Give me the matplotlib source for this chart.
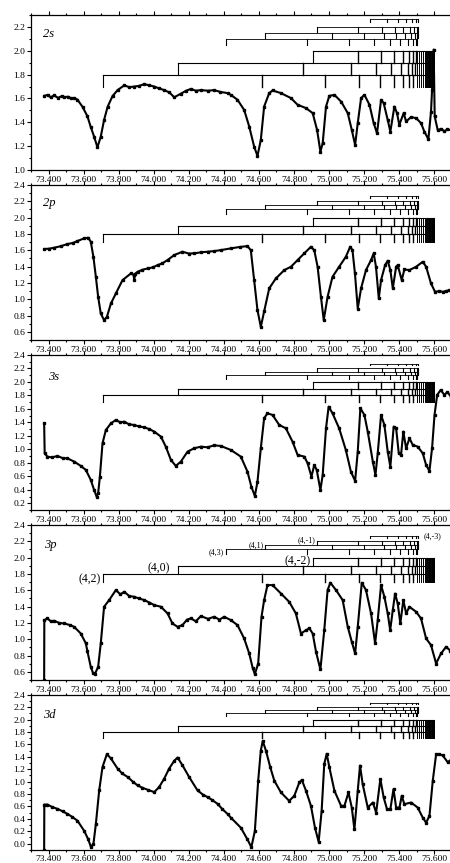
import matplotlib
matplotlib.use("Agg")
import matplotlib.pyplot as plt
from matplotlib.ticker import MultipleLocator, FormatStrFormatter

plt.rcParams['font.family'] = ['Liberation Serif', 'DejaVu Serif']

# ---------------- data ----------------
x_2s = [73.375, 73.395, 73.412, 73.432, 73.455, 73.475, 73.489, 73.51, 73.53, 73.546, 73.565, 73.594, 73.622, 73.641, 73.66, 73.679,
        73.698, 73.717, 73.737, 73.765, 73.794, 73.832, 73.86, 73.889, 73.915, 73.946, 73.975, 74.003, 74.03, 74.06,
        74.09, 74.117, 74.155, 74.185, 74.212, 74.24, 74.269, 74.31, 74.345, 74.38, 74.421, 74.44, 74.478, 74.516, 74.545,
        74.573, 74.592, 74.611, 74.63, 74.659, 74.678, 74.726, 74.783, 74.821, 74.869,
        74.907, 74.932, 74.951, 74.964, 74.983, 75.002, 75.031, 75.069, 75.107, 75.13,
        75.149, 75.164, 75.183, 75.202, 75.231, 75.255, 75.274, 75.297, 75.312, 75.335,
        75.35, 75.373, 75.388, 75.401, 75.426, 75.44, 75.468, 75.497, 75.525, 75.544,
        75.567, 75.582, 75.588, 75.597, 75.603, 75.62, 75.64, 75.658, 75.675, 75.695]
y_2s = [1.622, 1.63, 1.61, 1.625, 1.605, 1.62, 1.61, 1.615, 1.6, 1.605, 1.59, 1.53, 1.45, 1.36, 1.28, 1.19,
        1.28, 1.42, 1.53, 1.62, 1.67, 1.71, 1.695, 1.70, 1.705, 1.72, 1.71, 1.70, 1.685, 1.67,
        1.65, 1.61, 1.64, 1.665, 1.68, 1.665, 1.67, 1.665, 1.67, 1.655, 1.645, 1.63, 1.589, 1.504, 1.364,
        1.196, 1.118, 1.252, 1.532, 1.645, 1.667, 1.645, 1.603, 1.547, 1.519,
        1.477, 1.336, 1.154, 1.224, 1.532, 1.622, 1.63, 1.574, 1.477, 1.336,
        1.21, 1.393, 1.603, 1.63, 1.547, 1.393, 1.308, 1.589, 1.561, 1.42,
        1.322, 1.532, 1.477, 1.378, 1.477, 1.407, 1.444, 1.435, 1.393, 1.322,
        1.258, 1.49, 1.673, 2.01, 1.45, 1.336, 1.345, 1.325, 1.34, 1.336]

x_2p = [73.375, 73.405, 73.432, 73.47, 73.508, 73.54, 73.565, 73.603, 73.626, 73.641, 73.656, 73.67, 73.683,
        73.698, 73.717, 73.733, 73.756, 73.784, 73.822, 73.87, 73.885, 73.889, 73.893,
        73.908, 73.935, 73.965, 73.995, 74.022, 74.05, 74.079, 74.117, 74.164, 74.2, 74.231, 74.27, 74.307, 74.345, 74.383, 74.44,
        74.49, 74.535, 74.554, 74.573, 74.592, 74.611, 74.63, 74.659, 74.697, 74.745,
        74.783, 74.821, 74.859, 74.897, 74.916, 74.935, 74.954, 74.97, 74.992, 75.02,
        75.058, 75.096, 75.121, 75.134, 75.148, 75.164, 75.183, 75.211, 75.24, 75.255,
        75.268, 75.284, 75.297, 75.32, 75.335, 75.35, 75.364, 75.383, 75.392, 75.415,
        75.43, 75.459, 75.497, 75.535, 75.554, 75.582, 75.605, 75.63, 75.649, 75.667, 75.687]
y_2p = [1.615, 1.62, 1.631, 1.65, 1.676, 1.69, 1.713, 1.746, 1.754, 1.705, 1.52, 1.275, 1.03,
        0.825, 0.743, 0.784, 0.948, 1.07, 1.234, 1.316, 1.30, 1.234, 1.31,
        1.336, 1.36, 1.377, 1.39, 1.418, 1.44, 1.48, 1.541, 1.582, 1.56, 1.562, 1.575, 1.582, 1.59, 1.602, 1.623,
        1.64, 1.651, 1.6, 1.234, 0.866, 0.661, 0.85, 1.133, 1.255, 1.357,
        1.398, 1.48, 1.562, 1.643, 1.6, 1.398, 1.03, 0.744, 1.03, 1.275,
        1.398, 1.52, 1.643, 1.6, 1.316, 0.886, 1.133, 1.357, 1.48, 1.562,
        1.398, 1.01, 1.234, 1.418, 1.472, 1.357, 1.133, 1.398, 1.418, 1.234,
        1.365, 1.357, 1.398, 1.459, 1.398, 1.193, 1.09, 1.1, 1.09, 1.1, 1.11]

x_3s = [73.375, 73.378, 73.394, 73.42, 73.451, 73.48, 73.508, 73.546, 73.584, 73.613, 73.641, 73.66,
        73.674, 73.683, 73.693, 73.708, 73.727, 73.756, 73.784, 73.81, 73.832, 73.86, 73.889, 73.915, 73.946,
        73.975, 74.003, 74.041, 74.069, 74.098, 74.126, 74.155, 74.193, 74.231, 74.27, 74.307, 74.345, 74.383,
        74.44, 74.497, 74.535, 74.557, 74.577, 74.592, 74.611, 74.63, 74.649, 74.678,
        74.716, 74.754, 74.792, 74.821, 74.859, 74.878, 74.9, 74.916, 74.93, 74.951,
        74.964, 74.983, 74.998, 75.02, 75.058, 75.096, 75.125, 75.149, 75.164, 75.179,
        75.202, 75.221, 75.25, 75.265, 75.278, 75.297, 75.316, 75.335, 75.35, 75.369,
        75.383, 75.398, 75.411, 75.424, 75.44, 75.459, 75.478, 75.506, 75.535, 75.554,
        75.573, 75.588, 75.602, 75.617, 75.637, 75.658, 75.676, 75.696]
y_3s = [1.386, 0.94, 0.892, 0.88, 0.902, 0.87, 0.867, 0.818, 0.754, 0.694, 0.546, 0.398,
        0.3, 0.348, 0.595, 1.09, 1.287, 1.386, 1.436, 1.40, 1.411, 1.37, 1.362, 1.34, 1.327,
        1.30, 1.263, 1.189, 1.04, 0.843, 0.754, 0.818, 0.966, 1.016, 1.04, 1.03, 1.06, 1.05,
        0.991, 0.892, 0.669, 0.446, 0.308, 0.52, 1.016, 1.461, 1.535, 1.51,
        1.362, 1.312, 1.114, 0.917, 0.892, 0.793, 0.595, 0.768, 0.694, 0.397,
        0.62, 1.312, 1.634, 1.535, 1.312, 0.991, 0.669, 0.531, 0.966, 1.61,
        1.51, 1.263, 0.818, 0.62, 0.941, 1.51, 1.362, 0.966, 0.743, 1.337,
        1.312, 0.941, 0.917, 1.263, 1.016, 1.164, 1.065, 1.04, 0.941, 0.768,
        0.679, 1.016, 1.51, 1.807, 1.88, 1.81, 1.85, 1.78]

x_3p = [73.375, 73.376, 73.394, 73.412, 73.432, 73.46, 73.489, 73.52, 73.546, 73.584, 73.613, 73.622, 73.641,
        73.655, 73.664, 73.683, 73.698, 73.717, 73.746, 73.784, 73.81, 73.832, 73.86, 73.889, 73.915, 73.946,
        73.975, 74.003, 74.041, 74.079, 74.107, 74.136, 74.164, 74.19, 74.212, 74.24, 74.269, 74.31, 74.345, 74.375, 74.402,
        74.44, 74.478, 74.516, 74.545, 74.564, 74.577, 74.596, 74.615, 74.63, 74.649,
        74.678, 74.726, 74.773, 74.811, 74.84, 74.869, 74.888, 74.907, 74.926, 74.951,
        74.973, 74.992, 75.008, 75.04, 75.078, 75.107, 75.13, 75.149, 75.164, 75.187,
        75.211, 75.24, 75.263, 75.278, 75.297, 75.316, 75.335, 75.349, 75.364, 75.377,
        75.392, 75.407, 75.424, 75.44, 75.459, 75.497, 75.525, 75.554, 75.582, 75.611,
        75.639, 75.668, 75.693]
y_3p = [0.5, 1.234, 1.255, 1.22, 1.226, 1.2, 1.193, 1.175, 1.152, 1.07, 0.948, 0.85, 0.66,
        0.58, 0.571, 0.661, 0.948, 1.398, 1.48, 1.602, 1.55, 1.582, 1.53, 1.52, 1.50, 1.48,
        1.45, 1.418, 1.398, 1.316, 1.193, 1.152, 1.173, 1.24, 1.255, 1.22, 1.283, 1.25, 1.275, 1.24, 1.275,
        1.234, 1.173, 1.009, 0.825, 0.653, 0.571, 0.702, 1.275, 1.479, 1.663,
        1.663, 1.56, 1.458, 1.316, 1.07, 1.111, 1.132, 1.07, 0.845, 0.629,
        1.111, 1.602, 1.692, 1.602, 1.479, 1.152, 0.968, 0.825, 1.152, 1.692,
        1.602, 1.316, 0.948, 1.234, 1.663, 1.52, 1.316, 1.111, 1.357, 1.56,
        1.438, 1.193, 1.479, 1.316, 1.397, 1.336, 1.254, 1.009, 0.927, 0.702,
        0.825, 0.907, 0.858]

x_3d = [73.375, 73.376, 73.394, 73.42, 73.451, 73.48, 73.508, 73.535, 73.565, 73.603, 73.626, 73.641, 73.656,
        73.67, 73.689, 73.708, 73.733, 73.756, 73.794, 73.82, 73.851, 73.88, 73.908, 73.935, 73.965, 74.003,
        74.031, 74.06, 74.088, 74.117, 74.136, 74.164, 74.202, 74.25, 74.28, 74.307, 74.335, 74.364, 74.39,
        74.421, 74.44, 74.497, 74.535, 74.557, 74.577, 74.596, 74.611, 74.622, 74.64,
        74.665, 74.688, 74.726, 74.773, 74.802, 74.831, 74.845, 74.869, 74.897, 74.92,
        74.941, 74.958, 74.973, 74.987, 75.002, 75.031, 75.069, 75.088, 75.111, 75.13,
        75.145, 75.164, 75.177, 75.192, 75.221, 75.25, 75.269, 75.293, 75.312, 75.331,
        75.35, 75.368, 75.383, 75.402, 75.415, 75.43, 75.468, 75.506, 75.535, 75.554,
        75.573, 75.592, 75.611, 75.63, 75.649, 75.677, 75.696]
y_3d = [-0.1, 0.628, 0.628, 0.59, 0.558, 0.52, 0.477, 0.43, 0.368, 0.206, 0.07, -0.049, -0.011,
        0.314, 0.856, 1.235, 1.441, 1.371, 1.208, 1.13, 1.073, 1.0, 0.937, 0.9, 0.867, 0.829,
        0.91, 1.046, 1.208, 1.333, 1.387, 1.262, 1.073, 0.856, 0.79, 0.748, 0.7, 0.639, 0.56,
        0.477, 0.417, 0.255, 0.065, -0.06, 0.2, 1.013, 1.5, 1.652, 1.5,
        1.23, 1.013, 0.823, 0.688, 0.769, 0.986, 1.024, 0.85, 0.607, 0.255,
        0.027, 0.525, 1.284, 1.447, 1.23, 0.85, 0.607, 0.607, 0.823, 0.58,
        0.228, 0.85, 1.257, 0.959, 0.58, 0.661, 0.499, 1.04, 0.742, 0.553,
        0.553, 0.877, 0.58, 0.58, 0.769, 0.634, 0.661, 0.58, 0.417, 0.336,
        0.444, 1.013, 1.436, 1.44, 1.42, 1.311, 1.35]

panel_names = ['2s', '2p', '3s', '3p', '3d']
panel_x = [x_2s, x_2p, x_3s, x_3p, x_3d]
panel_y = [y_2s, y_2p, y_3s, y_3p, y_3d]
panel_ylim = [(1.0, 2.3), (0.5, 2.4), (0.1, 2.4), (0.5, 2.4), (-0.1, 2.4)]

# Series limit ladders: (label, level, start, tick positions)
dense_ticks = [75.502, 75.515, 75.527, 75.537, 75.545, 75.552, 75.558, 75.563, 75.568,
               75.572, 75.576, 75.579, 75.582, 75.585, 75.588, 75.590, 75.592, 75.594,
               75.596, 75.598, 75.600]
big_series = [
    ('(4,2)', 1.8, 73.711, [74.619, 74.98, 75.174, 75.292, 75.368, 75.421, 75.457, 75.482]),
    ('(4,0)', 1.9, 74.139, [74.851, 75.126, 75.271, 75.355, 75.412, 75.45, 75.474, 75.493]),
    ('(4,-2)', 2.0, 74.91, [75.164, 75.294, 75.368, 75.421, 75.459, 75.482, 75.497]),
]
small_series = [
    ('(4,3)', 2.1, 74.411, [74.875, 75.115, 75.258, 75.347, 75.406, 75.448, 75.478, 75.497], 75.50, 0.05),
    ('(4,1)', 2.15, 74.634, [75.016, 75.202, 75.315, 75.385, 75.434, 75.469, 75.488, 75.50], 75.505, 0.045),
    ('(4,-1)', 2.2, 74.93, [75.168, 75.30, 75.374, 75.425, 75.461, 75.484, 75.503], 75.51, 0.045),
    ('(4,-3)', 2.265, 75.235, [75.33, 75.393, 75.44, 75.472, 75.495], 75.51, 0.02),
]
series_limit = 75.6

# ---------------- figure ----------------
W, H = 450, 863
fig = plt.figure(figsize=(W / 100, H / 100), dpi=100)
left_px, width_px, height_px = 31, 420.7, 155
tops_px = [15, 185, 355, 525, 694.7]
label_pos = [(0.029, 0.879), (0.029, 0.884), (0.041, 0.86), (0.031, 0.871), (0.029, 0.871)]

for i in range(5):
    ax = fig.add_axes([left_px / W, (H - tops_px[i] - height_px) / H, width_px / W, height_px / H])
    ax.plot(panel_x[i], panel_y[i], color='black', lw=1.5, marker='s', ms=1.7,
            mec='black', mfc='black', solid_joinstyle='round')
    ax.set_xlim(73.3, 75.7)
    ax.set_ylim(*panel_ylim[i])
    ax.xaxis.set_major_locator(MultipleLocator(0.2))
    ax.xaxis.set_minor_locator(MultipleLocator(0.1))
    ax.yaxis.set_major_locator(MultipleLocator(0.2))
    ax.yaxis.set_minor_locator(MultipleLocator(0.1))
    ax.xaxis.set_major_formatter(FormatStrFormatter('%.3f'))
    ax.yaxis.set_major_formatter(FormatStrFormatter('%.1f'))
    ax.tick_params(which='both', direction='out', top=True, right=False, labeltop=False,
                   width=0.8, labelsize=6.8, pad=1)
    ax.tick_params(which='major', length=3)
    ax.tick_params(which='minor', length=1.6)
    ax.spines['right'].set_visible(False)
    for s in ['left', 'top', 'bottom']:
        ax.spines[s].set_linewidth(0.9)

    # big ladders
    for name, lev, start, ticks in big_series:
        ax.plot([start, series_limit], [lev, lev], color='black', lw=0.8)
        ax.plot([start, start], [lev, lev - 0.1], color='black', lw=0.8)
        for t in ticks:
            ax.plot([t, t], [lev, lev - 0.1], color='black', lw=1.0)
        for t in dense_ticks:
            ax.plot([t, t], [lev, lev - 0.1], color='black', lw=0.7)
    # small ladders
    for name, lev, start, ticks, end, tl in small_series:
        ax.plot([start, end], [lev, lev], color='#222222', lw=0.7)
        for t in [start] + ticks + [end]:
            ax.plot([t, t], [lev, lev - tl], color='black', lw=0.8)

    ax.text(label_pos[i][0], label_pos[i][1], panel_names[i], transform=ax.transAxes,
            fontsize=9, fontstyle='italic', ha='left', va='center')

    if panel_names[i] == '3p':
        big_lab = {'(4,2)': (73.70, 1.74, 8.5), '(4,0)': (74.09, 1.875, 8.5), '(4,-2)': (74.895, 1.96, 8.5)}
        for name, lev, start, ticks in big_series:
            bx, by, fs = big_lab[name]
            ax.text(bx, by, name, fontsize=fs, ha='right', va='center')
        small_lab = {'(4,3)': (74.40, 2.07), '(4,1)': (74.625, 2.15), '(4,-1)': (74.925, 2.215)}
        for name, lev, start, ticks, end, tl in small_series:
            if name in small_lab:
                sx, sy = small_lab[name]
                ax.text(sx, sy, name, fontsize=5.8, ha='right', va='center')
            else:
                ax.text(75.54, 2.26, name, fontsize=5.8, ha='left', va='center')

fig.savefig('out.png', dpi=100)
